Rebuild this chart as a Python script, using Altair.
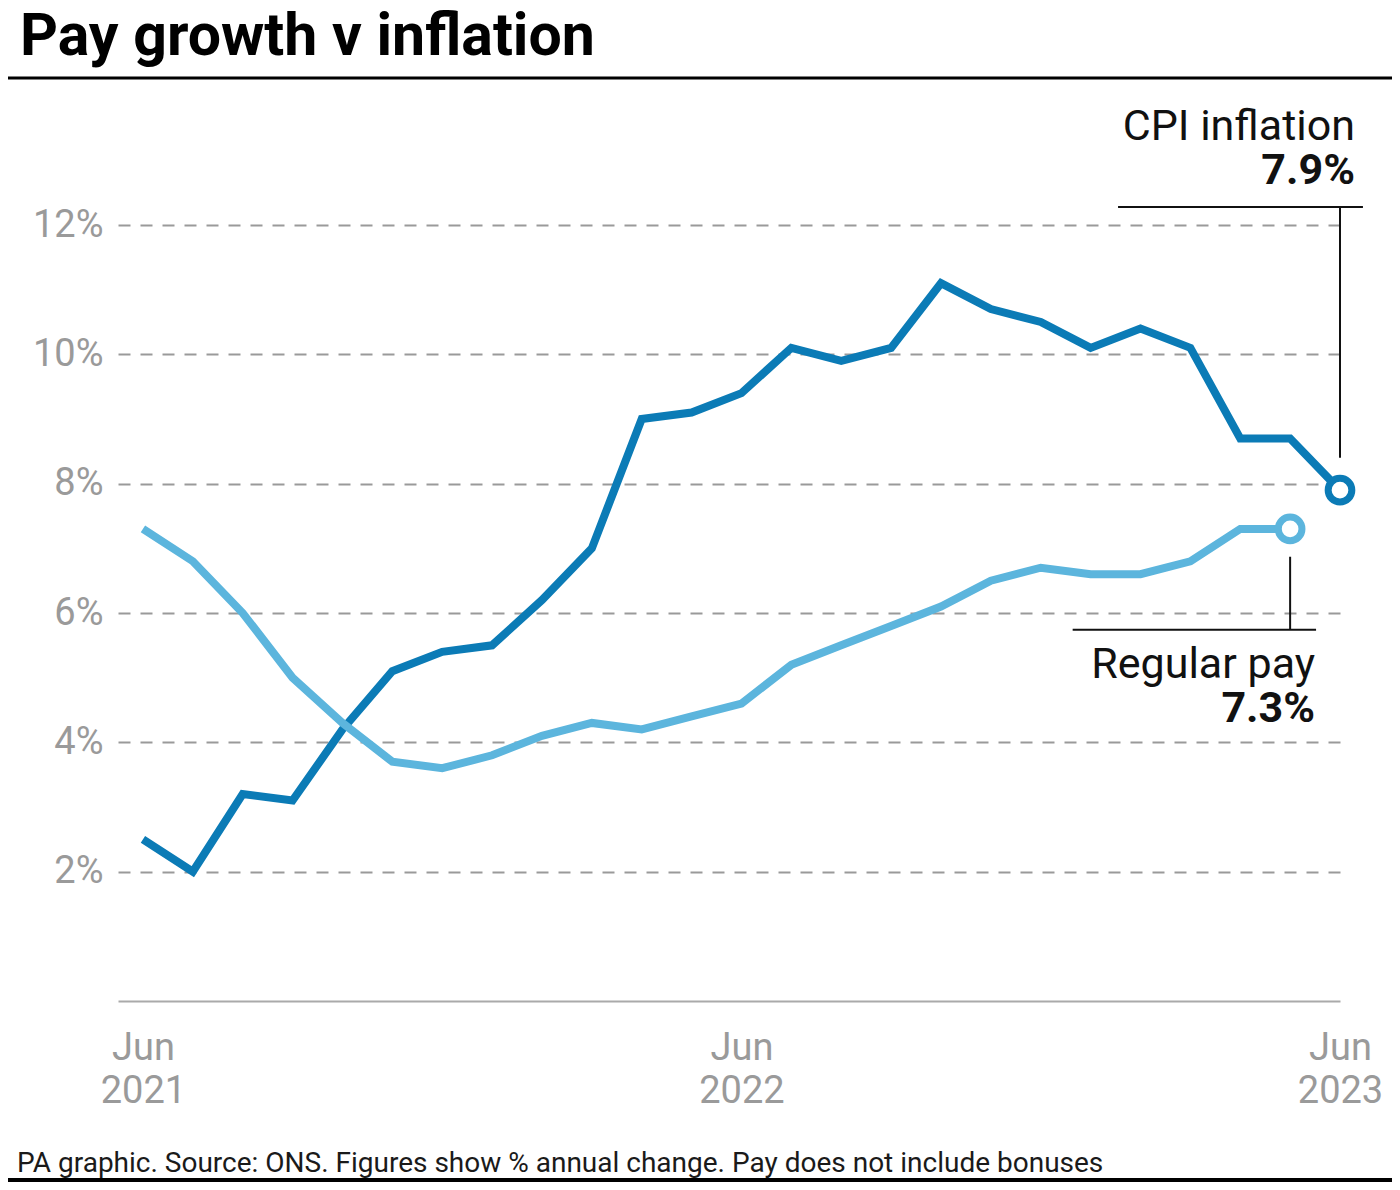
import altair as alt
import pandas as pd

# ---- data ----
months = ["Jun 2021", "Jul 2021", "Aug 2021", "Sep 2021", "Oct 2021", "Nov 2021",
          "Dec 2021", "Jan 2022", "Feb 2022", "Mar 2022", "Apr 2022", "May 2022",
          "Jun 2022", "Jul 2022", "Aug 2022", "Sep 2022", "Oct 2022", "Nov 2022",
          "Dec 2022", "Jan 2023", "Feb 2023", "Mar 2023", "Apr 2023", "May 2023",
          "Jun 2023"]
cpi = [2.5, 2.0, 3.2, 3.1, 4.2, 5.1, 5.4, 5.5, 6.2, 7.0, 9.0, 9.1, 9.4, 10.1,
       9.9, 10.1, 11.1, 10.7, 10.5, 10.1, 10.4, 10.1, 8.7, 8.7, 7.9]
pay = [7.3, 6.8, 6.0, 5.0, 4.3, 3.7, 3.6, 3.8, 4.1, 4.3, 4.2, 4.4, 4.6, 5.2,
       5.5, 5.8, 6.1, 6.5, 6.7, 6.6, 6.6, 6.8, 7.3, 7.3]
series_names = ["CPI inflation", "Regular pay"]
series_colors = ["#0b7bb6", "#5cb5dd"]
x_ticks = [0, 12, 24]
y_ticks = [2, 4, 6, 8, 10, 12]

rows = []
for i, v in enumerate(cpi):
    rows.append({"i": i, "month": months[i], "series": "CPI inflation", "value": v})
for i, v in enumerate(pay):
    rows.append({"i": i, "month": months[i], "series": "Regular pay", "value": v})
df = pd.DataFrame(rows)
last = pd.DataFrame([rows[len(cpi) - 1], rows[-1]])

FONT = "Roboto"
GREY = "#9a9a9a"

xs = alt.Scale(domain=[-0.5, 24], nice=False, zero=False)
ys = alt.Scale(domain=[0, 12], nice=False, zero=False)
xaxis = alt.Axis(values=x_ticks, labelExpr="['Jun', '' + (2021 + datum.value / 12)]",
                 ticks=False, grid=False, domain=True, domainColor="#aaaaaa",
                 domainWidth=2, labelFont=FONT, labelFontSize=38, labelColor=GREY,
                 labelBaseline="top", labelPadding=28, labelLineHeight=43,
                 labelFlush=False, labelOverlap=False, title=None)
yaxis = alt.Axis(values=y_ticks, labelExpr="datum.value + '%'", ticks=False,
                 domain=False, grid=True, gridDash=[12, 10], gridColor=GREY,
                 gridWidth=2, labelFont=FONT, labelFontSize=38, labelColor=GREY,
                 labelPadding=15, title=None)


def X(field):
    return alt.X(field, type="quantitative", scale=xs, axis=xaxis, title=None)


def Y(field):
    return alt.Y(field, type="quantitative", scale=ys, axis=yaxis, title=None)


color = alt.Color("series:N", scale=alt.Scale(domain=series_names, range=series_colors),
                  legend=None)
stroke = alt.Stroke("series:N", scale=alt.Scale(domain=series_names, range=series_colors),
                    legend=None)

lines = alt.Chart(df).mark_line(strokeWidth=8).encode(
    x=X("i"), y=Y("value"), color=color, detail="series:N")

ends = alt.Chart(last).mark_point(shape="circle", filled=True, fill="white",
                                  strokeWidth=7, size=560, opacity=1).encode(
    x=X("i"), y=Y("value"), stroke=stroke)

# annotation leader lines (data units)
ann_rules = pd.DataFrame([
    {"x": 24, "x2": 24, "y": 8.40, "y2": 12.28},
    {"x": 19.55, "x2": 24.46, "y": 12.28, "y2": 12.28},
    {"x": 23, "x2": 23, "y": 6.87, "y2": 5.74},
    {"x": 18.64, "x2": 23.52, "y": 5.74, "y2": 5.74},
])
rules = alt.Chart(ann_rules).mark_rule(color="#111111", strokeWidth=2).encode(
    x=X("x"), x2="x2", y=Y("y"), y2="y2")

ann_labels = pd.DataFrame([
    {"x": 24.30, "y": 13.31, "t": "CPI inflation"},
    {"x": 23.50, "y": 4.99, "t": "Regular pay"},
])
ann_values = pd.DataFrame([
    {"x": 24.30, "y": 12.63, "t": "7.9%"},
    {"x": 23.50, "y": 4.31, "t": "7.3%"},
])
labels = alt.Chart(ann_labels).mark_text(align="right", baseline="alphabetic",
                                         font=FONT, fontSize=43, color="#111111").encode(
    x=X("x"), y=Y("y"), text="t:N")
values = alt.Chart(ann_values).mark_text(align="right", baseline="alphabetic",
                                         font=FONT, fontSize=43, fontWeight="bold",
                                         color="#111111").encode(
    x=X("x"), y=Y("y"), text="t:N")

one = alt.Data(values=[{}])
title = alt.Chart(one).mark_text(text="Pay growth v inflation", align="left",
                                 baseline="alphabetic", font=FONT, fontSize=59,
                                 fontWeight="bold", color="#000000").encode(
    x=alt.value(-98), y=alt.value(-170))
title_rule = alt.Chart(one).mark_rule(color="#000000", strokeWidth=3).encode(
    x=alt.value(-110), x2=alt.value(1274), y=alt.value(-147))
footer = alt.Chart(one).mark_text(
    text="PA graphic. Source: ONS. Figures show % annual change. Pay does not include bonuses",
    align="left", baseline="alphabetic", font=FONT, fontSize=28,
    color="#1a1a1a").encode(x=alt.value(-101), y=alt.value(947))
footer_rule = alt.Chart(one).mark_rule(color="#000000", strokeWidth=4).encode(
    x=alt.value(-110), x2=alt.value(1274), y=alt.value(955))

chart = alt.layer(lines, ends, rules, labels, values, title, title_rule, footer,
                  footer_rule).properties(
    width=1222, height=776,
    autosize=alt.AutoSizeParams(type="none"),
    padding={"left": 110, "top": 217, "right": 52, "bottom": 181},
    background="white",
).configure_view(stroke=None)

chart.save("out.html", embed_options={"renderer": "svg", "actions": False})
